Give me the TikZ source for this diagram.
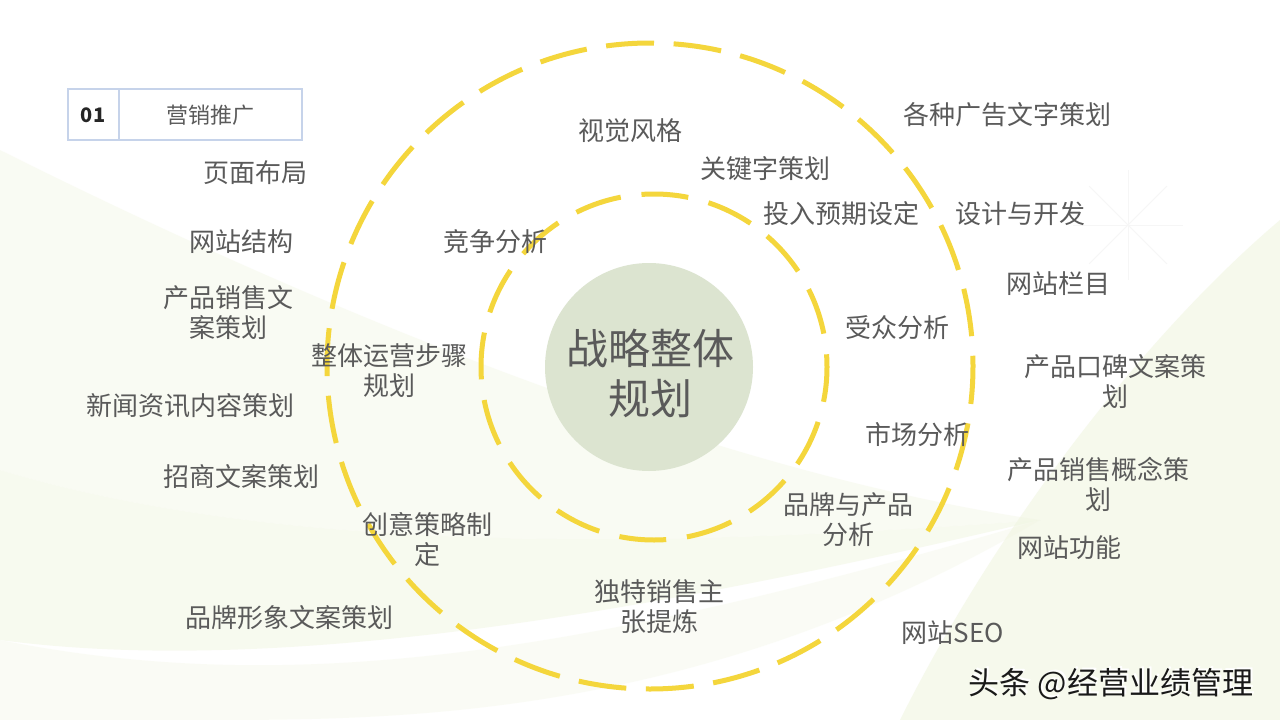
\documentclass[tikz,border=0pt]{standalone}
\usepackage{fontspec}
\setmainfont{Noto Sans CJK SC}
\definecolor{txt}{HTML}{5A5A5A}
\definecolor{ylw}{HTML}{F4D63C}
\definecolor{core}{HTML}{DCE4D0}
\definecolor{boxline}{HTML}{C6D3EA}
\definecolor{bgA}{HTML}{F6F9EC}
\definecolor{bgB}{HTML}{F0F5E0}
\tikzset{
  lbl/.style={text=txt, font=\fontsize{26}{30}\selectfont, align=center, inner sep=0pt},
  ring/.style={draw=ylw, line width=5pt},
  x=1pt, y=-1pt
}
\begin{document}
\begin{tikzpicture}
\useasboundingbox (0,0) rectangle (1280,720);
\fill[white] (0,0) rectangle (1280,720);
% background swooshes
\fill[bgA, opacity=0.6] (0,150) .. controls (300,300) and (700,470) .. (1040,520) .. controls (700,545) and (300,560) .. (0,470) -- cycle;
\fill[bgA, opacity=0.8] (0,470) .. controls (300,560) and (700,545) .. (1040,520) .. controls (700,600) and (300,680) .. (0,640) -- cycle;
\fill[bgA, opacity=0.5] (0,640) .. controls (300,700) and (600,650) .. (1040,520) .. controls (700,720) and (400,720) .. (200,720) -- (0,720) -- cycle;
\fill[bgB, opacity=0.6] (1280,220) .. controls (1150,330) and (1000,520) .. (900,720) -- (1280,720) -- cycle;
\fill[bgA, opacity=0.7] (1280,380) .. controls (1150,450) and (1050,600) .. (1000,720) -- (1280,720) -- cycle;
\fill[bgA, opacity=0.5] (1050,520) .. controls (1120,450) and (1200,420) .. (1280,400) -- (1280,560) .. controls (1200,560) and (1120,560) .. (1050,520) -- cycle;
% sparkle
\foreach \a in {0,45,90,135} {
  \draw[gray!7, line width=1pt] (1128,225) -- ++(\a:55) (1128,225) -- ++(\a+180:55);
}
% rings
\fill[core] (649,367) circle (104);
\draw[ring, dash pattern=on 48pt off 19.65pt, dash phase=10pt] (650,366) circle (323);
\draw[ring, dash pattern=on 47pt off 20.9pt, dash phase=12pt] (654,367) circle (173);
\node[text=txt, font=\fontsize{42}{50}\selectfont, align=center, inner sep=0pt] (core) at (650,373) {战略整体\\规划};
% title box
\draw[boxline, line width=2pt] (68,89) rectangle (302,140);
\draw[boxline, line width=2pt] (119,89) -- (119,140);
\node[font=\fontsize{20}{24}\selectfont\bfseries, text=black!85] (num) at (93,115) {01};
\node[text=txt, font=\fontsize{22}{26}\selectfont] (title) at (210,115) {营销推广};
% labels inside
\node[lbl] (a1) at (630,131) {视觉风格};
\node[lbl] (a2) at (765,169) {关键字策划};
\node[lbl] (a3) at (841,214) {投入预期设定};
\node[lbl] (a4) at (495,242) {竞争分析};
\node[lbl] (a5) at (897,328) {受众分析};
\node[lbl] (a6) at (389,371) {整体运营步骤\\规划};
\node[lbl] (a7) at (917,435) {市场分析};
\node[lbl] (a8) at (848,520) {品牌与产品\\分析};
\node[lbl] (a9) at (427,540) {创意策略制\\定};
\node[lbl] (a10) at (659,607) {独特销售主\\张提炼};
% right labels
\node[lbl] (b1) at (1007,115) {各种广告文字策划};
\node[lbl] (b2) at (1020,214) {设计与开发};
\node[lbl] (b3) at (1058,284) {网站栏目};
\node[lbl] (b4) at (1115,382) {产品口碑文案策\\划};
\node[lbl] (b5) at (1098,484) {产品销售概念策\\划};
\node[lbl] (b6) at (1069,548) {网站功能};
\node[lbl] (b7) at (953,633) {网站SEO};
% left labels
\node[lbl] (c1) at (255,173) {页面布局};
\node[lbl] (c2) at (241,242) {网站结构};
\node[lbl] (c3) at (228,313) {产品销售文\\案策划};
\node[lbl] (c4) at (190,406) {新闻资讯内容策划};
\node[lbl] (c5) at (241,477) {招商文案策划};
\node[lbl] (c6) at (289,618) {品牌形象文案策划};
% watermark
\node[text=white, font=\fontsize{31}{36}\selectfont, inner sep=0pt] at (1113,682) {头条 @经营业绩管理};
\node[text=black!90, font=\fontsize{31}{36}\selectfont, inner sep=0pt] (wm) at (1111,684) {头条 @经营业绩管理};
\end{tikzpicture}
\end{document}
